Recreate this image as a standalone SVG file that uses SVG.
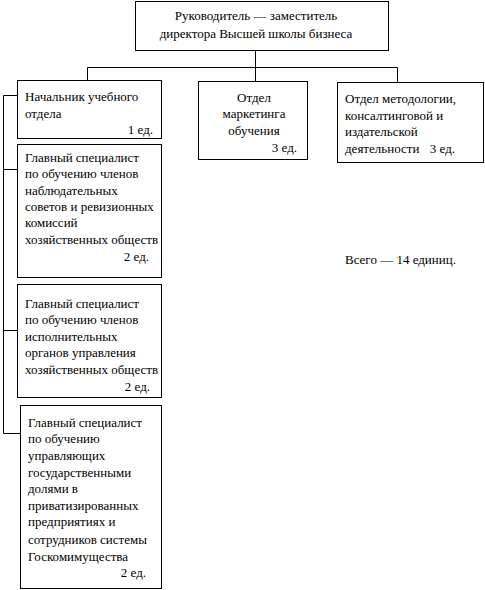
<svg xmlns="http://www.w3.org/2000/svg" width="485" height="590" viewBox="0 0 485 590">
<style>
rect{fill:#fff;stroke:#000;stroke-width:1}
.c line,.c polyline{stroke:#000;stroke-width:1;fill:none}
text{font-family:"Liberation Serif","Times New Roman",serif;font-size:13px;fill:#000}
.m{text-anchor:middle}
.e{text-anchor:end}
</style>
<rect x="0" y="0" width="485" height="590" style="stroke:none"/>
<g class="c" id="connectors">
<line x1="255.5" y1="51" x2="255.5" y2="81"/>
<polyline points="87.5,80 87.5,67.5 397.5,67.5 397.5,82"/>
<polyline points="17,95.5 3.5,95.5 3.5,433.5 20,433.5"/>
<line x1="3.5" y1="169.5" x2="17" y2="169.5"/>
<line x1="3.5" y1="330.5" x2="17" y2="330.5"/>
</g>
<g id="head">
<rect x="135.5" y="1.5" width="253" height="49"/>
<text class="m" x="256" y="20">Руководитель — заместитель</text>
<text class="m" x="256" y="38">директора Высшей школы бизнеса</text>
</g>
<g id="n1">
<rect x="17.5" y="80.5" width="144" height="58"/>
<text x="25" y="101">Начальник учебного</text>
<text x="25" y="118">отдела</text>
<text class="e" x="153" y="134">1 ед.</text>
</g>
<g id="n2">
<rect x="198.5" y="81.5" width="109" height="78"/>
<text class="m" x="254" y="102">Отдел</text>
<text class="m" x="254" y="118">маркетинга</text>
<text class="m" x="254" y="135">обучения</text>
<text class="e" x="297" y="152">3 ед.</text>
</g>
<g id="n3">
<rect x="337.5" y="82.5" width="146" height="80"/>
<text x="345" y="103">Отдел методологии,</text>
<text x="345" y="120">консалтинговой и</text>
<text x="345" y="136">издательской</text>
<text x="345" y="153">деятельности</text>
<text class="e" x="455" y="153">3 ед.</text>
</g>
<g id="n4">
<rect x="17.5" y="144.5" width="144" height="133"/>
<text x="25" y="162">Главный специалист</text>
<text x="25" y="178">по обучению членов</text>
<text x="25" y="195">наблюдательных</text>
<text x="25" y="211">советов и ревизионных</text>
<text x="25" y="227">комиссий</text>
<text x="25" y="244">хозяйственных обществ</text>
<text class="e" x="149" y="261">2 ед.</text>
</g>
<g id="n5">
<rect x="17.5" y="284.5" width="144" height="113"/>
<text x="25" y="308">Главный специалист</text>
<text x="25" y="324">по обучению членов</text>
<text x="25" y="341">исполнительных</text>
<text x="25" y="357">органов управления</text>
<text x="25" y="374">хозяйственных обществ</text>
<text class="e" x="150" y="391">2 ед.</text>
</g>
<g id="n6">
<rect x="20.5" y="405.5" width="141" height="183"/>
<text x="28" y="427">Главный специалист</text>
<text x="28" y="443">по обучению</text>
<text x="28" y="460">управляющих</text>
<text x="28" y="477">государственными</text>
<text x="28" y="493">долями в</text>
<text x="28" y="510">приватизированных</text>
<text x="28" y="526">предприятиях и</text>
<text x="28" y="544">сотрудников системы</text>
<text x="28" y="561">Госкомимущества</text>
<text class="e" x="146" y="577">2 ед.</text>
</g>
<g id="total">
<text x="345" y="264">Всего — 14 единиц.</text>
</g>
</svg>
